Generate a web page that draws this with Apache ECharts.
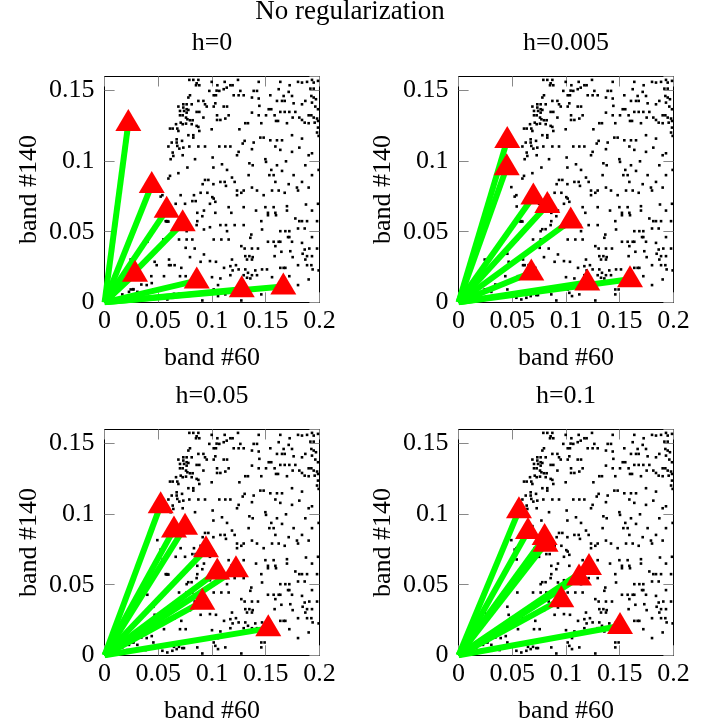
<!DOCTYPE html>
<html>
<head>
<meta charset="utf-8">
<script src="https://cdn.jsdelivr.net/npm/echarts@6/dist/echarts.min.js"></script>
<style>
  html, body { margin: 0; padding: 0; background: #fff; }
  #chart { width: 718px; height: 727px; }
</style>
</head>
<body>
<div id="chart"></div>
<script>
// background pixels (band #60, band #140)
const dots = [
  [0.1118,0.1562],[0.1242,0.1576],[0.1435,0.1562],[0.1636,0.1562],[0.1723,0.1538],[0.1801,0.1562],
  [0.1838,0.1557],[0.1885,0.1562],[0.1931,0.1576],[0.1947,0.1557],[0.1987,0.1569],[0.1050,0.1538],
  [0.1171,0.1538],[0.1192,0.1538],[0.1137,0.1521],[0.1068,0.1498],[0.1043,0.1500],[0.1109,0.1510],
  [0.1264,0.1498],[0.1388,0.1498],[0.1419,0.1498],[0.1543,0.1467],[0.1621,0.1510],[0.1714,0.1491],
  [0.1916,0.1514],[0.1947,0.1514],[0.1016,0.1467],[0.1037,0.1467],[0.1202,0.1467],[0.1248,0.1467],
  [0.1295,0.1467],[0.1372,0.1451],[0.1435,0.1444],[0.1667,0.1462],[0.1605,0.1427],[0.1652,0.1427],
  [0.1677,0.1427],[0.1745,0.1462],[0.1869,0.1427],[0.1925,0.1462],[0.1947,0.1451],[0.1968,0.1439],
  [0.1931,0.1415],[0.1031,0.1410],[0.1109,0.1387],[0.1140,0.1387],[0.1016,0.1387],[0.1441,0.1392],
  [0.1760,0.1410],[0.1838,0.1403],[0.1962,0.1387],[0.1987,0.1368],[0.1528,0.1368],[0.1552,0.1368],
  [0.1372,0.1344],[0.1636,0.1349],[0.1677,0.1349],[0.1720,0.1349],[0.1776,0.1349],[0.1900,0.1325],
  [0.1925,0.1325],[0.1047,0.1325],[0.1155,0.1325],[0.1435,0.1325],[0.1503,0.1325],[0.1583,0.1325],
  [0.1751,0.1309],[0.1813,0.1309],[0.1947,0.1309],[0.1978,0.1302],[0.1047,0.1292],[0.1078,0.1292],
  [0.1124,0.1302],[0.1596,0.1285],[0.1615,0.1285],[0.1838,0.1292],[0.1863,0.1273],[0.1956,0.1273],
  [0.1987,0.1285],[0.1310,0.1269],[0.1335,0.1269],[0.1459,0.1269],[0.1698,0.1269],[0.1900,0.1269],
  [0.1255,0.1226],[0.1987,0.1238],[0.1978,0.1203],[0.1450,0.1167],[0.1481,0.1167],[0.1745,0.1184],
  [0.1543,0.1148],[0.1605,0.1148],[0.1652,0.1148],[0.1838,0.1160],[0.1304,0.1144],[0.1286,0.1125],
  [0.1388,0.1132],[0.1993,0.1179],[0.1068,0.1104],[0.1124,0.1104],[0.1171,0.1104],[0.1590,0.1104],
  [0.1813,0.1096],[0.1372,0.1085],[0.1636,0.1080],[0.1745,0.1066],[0.1248,0.1066],[0.1233,0.1042],
  [0.1900,0.1042],[0.1931,0.1056],[0.1497,0.1014],[0.1503,0.0995],[0.1689,0.0999],[0.1093,0.0978],
  [0.1348,0.0985],[0.1379,0.0971],[0.1605,0.0971],[0.1869,0.0971],[0.1140,0.0938],[0.1552,0.0938],
  [0.1652,0.0931],[0.1993,0.0938],[0.1341,0.0901],[0.1534,0.0901],[0.1574,0.0901],[0.1760,0.0901],
  [0.1931,0.0901],[0.1186,0.0884],[0.1078,0.0853],[0.1118,0.0853],[0.1211,0.0853],[0.1590,0.0853],
  [0.1714,0.0837],[0.1838,0.0853],[0.1130,0.0825],[0.1372,0.0813],[0.1791,0.0813],[0.1900,0.0813],
  // upper middle strip
  [0.0789,0.1576],[0.0826,0.1576],[0.0873,0.1576],[0.0857,0.1552],[0.0882,0.1538],[0.0851,0.1538],
  [0.0997,0.1562],[0.0975,0.1498],[0.0795,0.1467],[0.0780,0.1451],[0.0873,0.1427],[0.0920,0.1427],
  [0.0733,0.1403],[0.0764,0.1403],[0.0811,0.1403],[0.0687,0.1387],[0.0733,0.1380],[0.0764,0.1368],
  [0.0780,0.1363],[0.0935,0.1403],[0.0951,0.1387],[0.0702,0.1356],[0.0740,0.1356],[0.0764,0.1344],
  [0.0857,0.1349],[0.0882,0.1349],[0.0702,0.1325],[0.0727,0.1325],[0.0758,0.1309],[0.0771,0.1297],
  [0.0795,0.1290],[0.0820,0.1290],[0.0709,0.1273],[0.0665,0.1262],[0.0727,0.1262],[0.0758,0.1266],
  [0.0811,0.1262],[0.0857,0.1250],[0.0873,0.1243],[0.0920,0.1309],[0.0609,0.1231],[0.0634,0.1231],
  [0.0677,0.1231],[0.0687,0.1214],[0.0882,0.1214],[0.0997,0.1226],[0.0780,0.1184],[0.0826,0.1184],
  [0.0826,0.1167],[0.0671,0.1155],[0.0625,0.1132],[0.0671,0.1132],[0.0721,0.1144],[0.0733,0.1096],
  [0.0677,0.1108],[0.0696,0.1089],[0.0789,0.1104],[0.0873,0.1104],[0.0935,0.1104],[0.0594,0.1104],
  [0.0634,0.1061],[0.0640,0.1037],[0.0727,0.1042],[0.0615,0.1014],[0.0842,0.1014],[0.1006,0.1026],
  [0.0771,0.0955],[0.1013,0.0955],[0.0687,0.0915],[0.0609,0.0896],[0.0594,0.0877],[0.0935,0.0867],
  [0.0966,0.0867],[0.0913,0.0837],[0.1013,0.0837],
  // lower right
  [0.1233,0.0792],[0.1295,0.0792],[0.1419,0.0792],[0.1559,0.0792],[0.1621,0.0792],[0.1677,0.0776],
  [0.1801,0.0792],[0.1273,0.0776],[0.1233,0.0759],[0.1481,0.0759],[0.1016,0.0735],[0.1031,0.0712],
  [0.1155,0.0674],[0.1295,0.0674],[0.1497,0.0674],[0.1574,0.0674],[0.1698,0.0681],[0.1875,0.0693],
  [0.1987,0.0698],[0.1931,0.0650],[0.1410,0.0650],[0.1521,0.0634],[0.1590,0.0634],[0.1698,0.0650],
  [0.1521,0.0617],[0.1596,0.0617],[0.1031,0.0634],[0.1180,0.0634],[0.1776,0.0594],[0.1813,0.0575],
  [0.1838,0.0575],[0.1885,0.0575],[0.1978,0.0575],[0.1459,0.0575],[0.1078,0.0547],[0.1130,0.0547],
  [0.1211,0.0547],[0.1295,0.0547],[0.1466,0.0516],[0.1140,0.0504],[0.1636,0.0504],[0.1683,0.0504],
  [0.1720,0.0504],[0.1801,0.0523],[0.1863,0.0523],[0.1366,0.0480],[0.1357,0.0457],[0.1708,0.0462],
  [0.1720,0.0462],[0.1016,0.0445],[0.1087,0.0445],[0.1155,0.0445],[0.1521,0.0429],[0.1574,0.0429],
  [0.1621,0.0429],[0.1636,0.0429],[0.1745,0.0429],[0.1838,0.0421],[0.1931,0.0462],[0.1273,0.0398],
  [0.1304,0.0381],[0.1372,0.0381],[0.1428,0.0381],[0.1590,0.0398],[0.1646,0.0358],[0.1729,0.0362],
  [0.1863,0.0374],[0.1906,0.0381],[0.1978,0.0381],[0.1186,0.0303],[0.1310,0.0327],[0.1348,0.0327],
  [0.1379,0.0320],[0.1326,0.0303],[0.1372,0.0303],[0.1583,0.0327],[0.1751,0.0320],[0.1844,0.0344],
  [0.1885,0.0327],[0.1869,0.0303],[0.1931,0.0327],[0.1037,0.0287],[0.1112,0.0244],[0.1171,0.0256],
  [0.1223,0.0263],[0.1248,0.0233],[0.1192,0.0226],[0.1310,0.0233],[0.1403,0.0226],[0.1466,0.0233],
  [0.1512,0.0233],[0.1636,0.0244],[0.1667,0.0244],[0.1683,0.0244],[0.1801,0.0263],[0.1885,0.0263],
  [0.1925,0.0263],[0.1937,0.0233],[0.1993,0.0226],[0.1000,0.0178],[0.1078,0.0169],[0.1171,0.0192],
  [0.1295,0.0192],[0.1335,0.0209],[0.1372,0.0192],[0.1419,0.0192],[0.1326,0.0174],[0.1357,0.0169],
  [0.1559,0.0178],[0.1720,0.0185],[0.1900,0.0162],[0.1801,0.0122],[0.1056,0.0122],[0.1016,0.0091],
  [0.1031,0.0067],[0.1056,0.0044],[0.1124,0.0056],[0.1459,0.0091],[0.1490,0.0091],[0.1459,0.0056],
  [0.1273,0.0013],
  // lower left
  [0.0538,0.0759],[0.0708,0.0759],[0.0832,0.0759],[0.0894,0.0776],[0.0957,0.0776],[0.1003,0.0745],
  [0.0817,0.0717],[0.0848,0.0717],[0.0662,0.0698],[0.0749,0.0698],[0.0981,0.0698],[0.0925,0.0650],
  [0.0863,0.0634],[0.0910,0.0610],[0.0569,0.0575],[0.0584,0.0575],[0.0863,0.0575],[0.0857,0.0547],
  [0.0925,0.0516],[0.0981,0.0532],[0.0764,0.0504],[0.0693,0.0445],[0.0764,0.0445],[0.0817,0.0445],
  [0.0398,0.0429],[0.0547,0.0445],[0.0755,0.0386],[0.0839,0.0381],[0.0925,0.0339],[0.0454,0.0344],
  [0.0243,0.0303],[0.0600,0.0303],[0.0795,0.0320],[0.0466,0.0287],[0.0485,0.0263],[0.0600,0.0263],
  [0.0615,0.0263],[0.0652,0.0263],[0.0714,0.0244],[0.0894,0.0287],[0.0981,0.0292],[0.0435,0.0185],
  [0.0553,0.0185],[0.0702,0.0185],[0.0755,0.0185],[0.0342,0.0126],[0.0392,0.0122],[0.0243,0.0091],
  [0.0268,0.0091],[0.0305,0.0074],[0.0227,0.0074],[0.0165,0.0056],[0.0212,0.0037],[0.0382,0.0037],
  [0.0454,0.0091],[0.0538,0.0032],[0.0646,0.0060],[0.0693,0.0060],[0.0671,0.0044],[0.0724,0.0051],
  [0.0739,0.0051],[0.0863,0.0056],[0.0584,0.0020],[0.0631,0.0032],[0.0910,0.0013],[0.0056,0.0005],
  [0.0150,0.0005],[0.0491,0.0816],[0.0522,0.0749],[0.0541,0.0679],[0.0578,0.0572],[0.0594,0.0572],
  [0.0779,0.0518],[0.0810,0.0518],[0.0143,0.0136],[0.0267,0.0093],[0.0439,0.0136]
];

// endmember estimates (red triangles), one list per panel
const vecH0 = [[0.0221,0.127],[0.0439,0.0832],[0.0578,0.0655],[0.0727,0.0561],
               [0.0283,0.0202],[0.0858,0.0154],[0.1277,0.0093],[0.1664,0.0112]];
const vecH005 = [[0.0453,0.115],[0.0448,0.0957],[0.0696,0.0749],[0.0826,0.069],
                 [0.1044,0.0579],[0.0677,0.0211],[0.1198,0.014],[0.1596,0.0164]];
const vecH05 = [[0.0522,0.1064],[0.0646,0.0892],[0.0749,0.0911],[0.0944,0.0751],
                [0.1049,0.0593],[0.1223,0.0609],[0.091,0.038],[0.1524,0.0191]];
const vecH1 = [[0.0562,0.1027],[0.0646,0.088],[0.0801,0.0838],[0.081,0.0791],
               [0.1214,0.0625],[0.1121,0.0551],[0.0956,0.0397],[0.1503,0.0208]];

const panelTitles = ['h=0', 'h=0.005', 'h=0.05', 'h=0.1'];
const panelVecs = [vecH0, vecH005, vecH05, vecH1];
const xLabel = 'band #60';
const yLabel = 'band #140';

const FONT = '"Liberation Serif", "Times New Roman", serif';
const lefts = [104.6, 458.6, 104.6, 458.6];
const tops = [76.5, 76.5, 429.5, 429.5];
const W = 214.8, H = 225.8;

let chart = echarts.init(document.getElementById('chart'));

let grids = [], xAxes = [], yAxes = [], series = [];
let titles = [{
  text: 'No regularization', left: 350, top: -2, textAlign: 'center', padding: 0,
  textStyle: { fontFamily: FONT, fontSize: 27, fontWeight: 'normal', color: '#000' }
}];

const tickStyle = { show: true, inside: true, length: 10, lineStyle: { color: '#888', width: 1 } };
const lineStyle = { show: true, onZero: false, lineStyle: { color: '#000', width: 1 } };
const labelStyle = { fontFamily: FONT, fontSize: 26, color: '#000' };

for (let i = 0; i < 4; i++) {
  grids.push({ left: lefts[i], top: tops[i], width: W, height: H, containLabel: false });
  titles.push({
    text: panelTitles[i], left: lefts[i] + W / 2, top: tops[i] - 46.5, textAlign: 'center', padding: 0,
    textStyle: { fontFamily: FONT, fontSize: 26, fontWeight: 'normal', color: '#000' }
  });

  xAxes.push({
    type: 'value', gridIndex: i, min: 0, max: 0.2, interval: 0.05, position: 'bottom',
    axisLine: lineStyle, axisTick: tickStyle, splitLine: { show: false },
    axisLabel: Object.assign({ margin: 6 }, labelStyle),
    name: xLabel, nameLocation: 'middle', nameGap: 43,
    nameTextStyle: labelStyle
  });
  xAxes.push({
    type: 'value', gridIndex: i, min: 0, max: 0.2, interval: 0.05, position: 'top',
    axisLine: lineStyle, axisTick: tickStyle, splitLine: { show: false },
    axisLabel: { show: false }
  });
  yAxes.push({
    type: 'value', gridIndex: i, min: 0, max: 0.16, interval: 0.05, position: 'left',
    axisLine: lineStyle, axisTick: tickStyle, splitLine: { show: false },
    axisLabel: Object.assign({ margin: 10, showMaxLabel: false }, labelStyle),
    name: yLabel, nameLocation: 'middle', nameGap: 62, nameRotate: 90,
    nameTextStyle: labelStyle
  });
  yAxes.push({
    type: 'value', gridIndex: i, min: 0, max: 0.16, interval: 0.05, position: 'right',
    axisLine: lineStyle, axisTick: tickStyle, splitLine: { show: false },
    axisLabel: { show: false }
  });

  series.push({
    type: 'scatter', xAxisIndex: 2 * i, yAxisIndex: 2 * i,
    data: dots, symbol: 'rect', symbolSize: 2.6,
    itemStyle: { color: '#000', opacity: 1 }, z: 2, silent: true
  });

  panelVecs[i].forEach(p => {
    series.push({
      type: 'line', xAxisIndex: 2 * i, yAxisIndex: 2 * i,
      data: [[0, 0], p], symbol: 'none',
      lineStyle: { color: '#00ff00', width: 6 }, z: 3, silent: true
    });
  });

  series.push({
    type: 'scatter', xAxisIndex: 2 * i, yAxisIndex: 2 * i,
    data: panelVecs[i], symbol: 'triangle', symbolSize: [26, 22], symbolOffset: [0, -3],
    itemStyle: { color: '#ff0000', opacity: 1 }, z: 4, silent: true
  });
}

let option = {
  animation: false,
  backgroundColor: '#fff',
  title: titles,
  grid: grids,
  xAxis: xAxes,
  yAxis: yAxes,
  series: series
};

chart.setOption(option);
</script>
</body>
</html>
